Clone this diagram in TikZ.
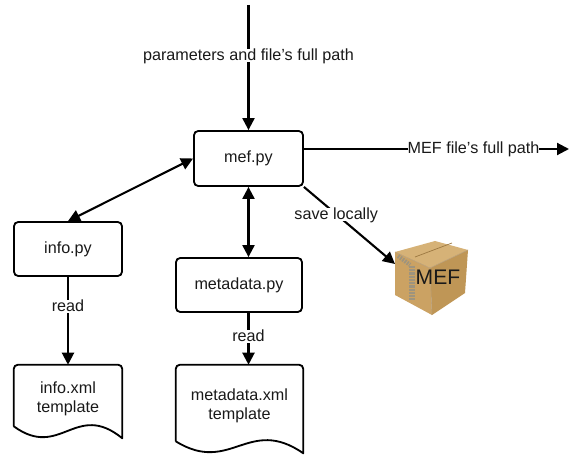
\documentclass[tikz,border=0pt]{standalone}
\usepackage{fontspec}
\setmainfont{Liberation Sans}
\usetikzlibrary{arrows.meta,calc}

\definecolor{boxtop}{HTML}{D6B277}
\definecolor{boxleft}{HTML}{CBA263}
\definecolor{boxright}{HTML}{BF9656}
\definecolor{boxseam}{HTML}{9C7841}
\definecolor{boxzip}{HTML}{9E947E}

\tikzset{
	mytext/.style={font=\fontsize{11.5}{13.5}\selectfont, text=black!90},
	pybox/.style={mytext, draw, line width=1.3pt, rounded corners=3pt, minimum height=1.35cm, inner sep=0pt, text height=8pt, text depth=2pt},
	docbox/.style={mytext, align=center, inner sep=0pt},
	flow/.style={line width=1.5pt, -{Triangle[length=0.3cm, width=0.3cm]}},
	bothflow/.style={line width=1.5pt, {Triangle[length=0.3cm, width=0.3cm]}-{Triangle[length=0.3cm, width=0.3cm]}},
	edgetext/.style={mytext, fill=white, inner xsep=0pt, inner ysep=0pt, text height=8pt, text depth=1pt},
}

% outline of a document, the wave hangs below the node
\newcommand{\docoutline}[1]{
	\draw [line width=1.3pt, line join=round] ([yshift=0.15cm]#1.south west)
		-- ([yshift=-3pt]#1.north west) arc (180:90:3pt)
		-- ([xshift=-3pt]#1.north east) arc (90:0:3pt)
		-- ([yshift=-0.15cm]#1.south east)
		.. controls ($(#1.south west)!0.57!(#1.south east)+(0,0.8)$)
		and ($(#1.south west)!0.43!(#1.south east)+(0,-0.7)$) .. ([yshift=0.15cm]#1.south west);
}

\begin{document}
\begin{tikzpicture}
	\useasboundingbox (0, 0) rectangle (14.225, 11.4);

	\node [pybox, minimum width=2.725cm, minimum height=1.375cm] (mefpy) at (6.2125, 7.4375) {mef.py};
	\node [pybox, minimum width=2.7cm] (infopy) at (1.7, 5.175) {info.py};
	\node [pybox, minimum width=3.15cm] (metadatapy) at (5.975, 4.275) {metadata.py};

	\node [docbox, minimum width=2.7cm, minimum height=1.675cm] (infoxml) at (1.7, 1.4375) {info.xml\\template};
	\node [docbox, minimum width=3.175cm, minimum height=2.05cm] (metadataxml) at (5.9875, 1.25) {metadata.xml\\template};
	\docoutline{infoxml}
	\docoutline{metadataxml}

	% the package
	\coordinate (boxa) at (9.875, 5.1);
	\coordinate (boxb) at (10.875, 5.375);
	\coordinate (boxc) at (11.7, 5.15);
	\coordinate (boxd) at (10.75, 4.7);
	\coordinate (boxe) at (9.875, 4.025);
	\coordinate (boxf) at (10.8, 3.525);
	\coordinate (boxg) at (11.625, 4.075);
	\fill [boxtop] (boxa) -- (boxb) -- (boxc) -- (boxd) -- cycle;
	\fill [boxleft] (boxa) -- (boxd) -- (boxf) -- (boxe) -- cycle;
	\fill [boxright] (boxd) -- (boxc) -- (boxg) -- (boxf) -- cycle;
	\draw [boxseam, line width=0.5pt] (10.375, 4.975) -- (11.3, 5.325);
	\draw [boxseam!70, line width=0.4pt] (boxa) -- (boxd) -- (boxc);
	\draw [boxseam!70, line width=0.4pt] (boxd) -- (boxf);
	\draw [boxzip, line width=3pt, dash pattern=on 1.2pt off 0.8pt] (9.95, 5.0) -- (10.25, 4.78);
	\draw [boxzip, line width=4pt, dash pattern=on 1.5pt off 0.8pt] (10.3, 4.75) -- (10.3, 3.9);
	\node [font=\fontsize{15}{15}\selectfont, text=black!90, inner sep=0pt] (mefpkg) at (10.95, 4.475) {MEF};

	\coordinate (start) at (6.2125, 11.275);
	\coordinate (outer) at (14.225, 7.675);
	\coordinate (boxin) at (9.875, 4.8);

	\draw [flow] (start) -- node [edgetext, pos=0.405] (paramtext) {parameters and file's full path} (mefpy.north);
	\draw [flow] ([yshift=0.2375cm]mefpy.east) -- node [edgetext, pos=0.64] (pathtext) {MEF file's full path} (outer);
	\draw [flow] (mefpy.south east) -- node [edgetext, pos=0.355] (savetext) {save locally} (boxin);
	\draw [bothflow] (mefpy.west) -- (infopy.north);
	\draw [bothflow] (mefpy.south) -- (metadatapy.north -| mefpy.south);
	\draw [flow] (infopy.south) -- node [edgetext, pos=0.34] (readone) {read} (infoxml.north);
	\draw [flow] (metadatapy.south -| mefpy.south) -- node [edgetext, pos=0.46] (readtwo) {read} (metadataxml.north -| mefpy.south);
\end{tikzpicture}
\end{document}
